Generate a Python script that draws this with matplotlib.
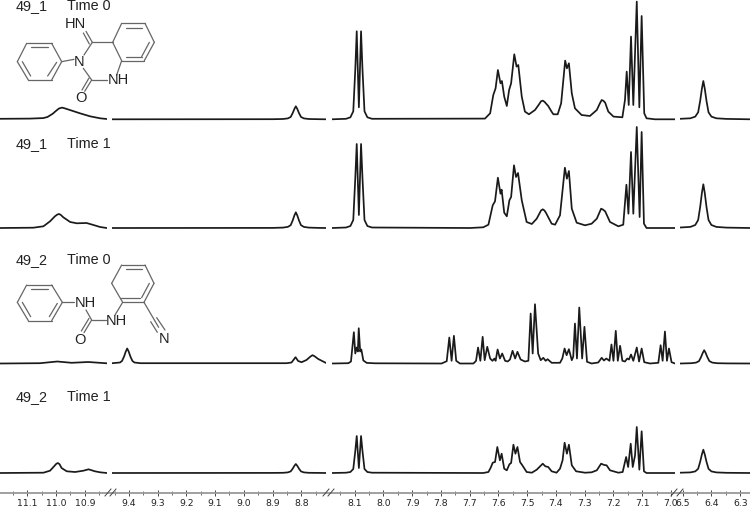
import matplotlib
matplotlib.use("Agg")
import matplotlib.pyplot as plt
from matplotlib.lines import Line2D
from matplotlib.ticker import MultipleLocator, FormatStrFormatter

# shared ppm readings for the singlets near 8.82 and 6.43
ppm_882 = [9.459, 8.899, 8.864, 8.847, 8.837, 8.83, 8.824, 8.819, 8.814, 8.808, 8.801, 8.791, 8.774, 8.739, 8.714]
ppm_643 = [6.508, 6.473, 6.456, 6.446, 6.439, 6.433, 6.428, 6.423, 6.417, 6.41, 6.4, 6.383, 6.348, 6.266]

# spectrum 49_1 time 0
a0_ppm1 = [11.195, 11.091, 11.045, 11.03, 11.012, 11.0, 10.99, 10.979, 10.968, 10.951, 10.917, 10.882, 10.847, 10.823]
a0_int1 = [0.5, 0.7, 1.2, 2.3, 5.5, 8.5, 10.8, 11.7, 10.8, 9.2, 6, 3, 1, 0.3]
a0_ppm2 = ppm_882
a0_int2 = [0, 0.1, 0.3, 0.9, 2.3, 6.2, 10.4, 13, 10.4, 6.2, 2.3, 0.9, 0.3, 0.1, 0]
a0_ppm3 = [8.179, 8.13, 8.115, 8.105, 8.098, 8.093, 8.0855, 8.078, 8.073, 8.066, 8.056, 8.04,
           7.647, 7.629, 7.618, 7.610, 7.602, 7.593, 7.588, 7.580, 7.571, 7.563, 7.556, 7.545,
           7.537, 7.531, 7.519, 7.508, 7.494, 7.473, 7.46, 7.452, 7.446, 7.44, 7.427, 7.415, 7.409, 7.394, 7.382, 7.368,
           7.362, 7.355, 7.345, 7.334, 7.311, 7.282, 7.258, 7.248, 7.241, 7.235, 7.229, 7.218, 7.200, 7.169,
           7.160, 7.154, 7.147, 7.139, 7.131, 7.119, 7.110, 7.102, 7.093, 7.085, 7.056, 6.986]
a0_int3 = [0, 0.5, 2, 8, 50, 88, 12, 88, 50, 8, 2, 0.5,
           0.7, 6, 24.3, 31, 49.3, 36, 38.3, 22.7, 13.3, 29.3, 36, 65,
           52.7, 54.3, 22.7, 7.7, 5, 9.3, 14.5, 18, 18.7, 17.5, 13.3, 7.5, 5, 5, 16, 58.7,
           51, 56, 26, 11, 4.3, 3.3, 9.3, 15.5, 19.3, 18.5, 16.7, 7.7, 2.7, 2,
           19.3, 47.7, 14.3, 82.7, 14.3, 117.7, 12, 103.3, 6, 1, 0, 0]
a0_ppm4 = ppm_643
a0_int4 = [0.5, 1, 2.7, 7, 18.4, 30.6, 38.3, 30.6, 18.4, 7, 2.7, 1, 0.4, 0]

# spectrum 49_1 time 1
a1_ppm1 = [11.195, 11.079, 11.044, 11.021, 11.004, 10.996, 10.990, 10.984, 10.975, 10.951, 10.928, 10.894, 10.870, 10.847, 10.824]
a1_int1 = [0, 0.3, 1.7, 6.7, 11.7, 13.4, 14, 13.2, 10.7, 6, 4.7, 5, 3, 1, 0]
a1_ppm2 = ppm_882
a1_int2 = [0, 0.1, 0.4, 1.1, 2.8, 7.5, 12.6, 15.7, 12.6, 7.5, 2.8, 1.1, 0.4, 0.1, 0]
a1_ppm3 = [8.179, 8.13, 8.115, 8.105, 8.098, 8.093, 8.0855, 8.078, 8.073, 8.066, 8.056, 8.04,
           7.699, 7.653, 7.635, 7.620, 7.612, 7.602, 7.593, 7.589, 7.580, 7.571, 7.562, 7.556,
           7.546, 7.539, 7.532, 7.519, 7.502, 7.484, 7.467, 7.452, 7.446, 7.44, 7.435, 7.415, 7.403, 7.386,
           7.369, 7.362, 7.355, 7.345, 7.328, 7.299, 7.276, 7.258, 7.243, 7.237, 7.229, 7.212, 7.183,
           7.166, 7.155, 7.148, 7.139, 7.131, 7.119, 7.109, 7.102, 7.094, 7.085, 6.986]
a1_int3 = [0, 0.5, 2, 8, 50, 84, 13, 84, 50, 8, 2, 0.5,
           0, 0.7, 3.3, 22.7, 26.7, 50.3, 34.3, 38.3, 15.3, 11.7, 27.7, 31,
           62.7, 51, 55, 27.7, 6, 4, 9.3, 17.5, 18.7, 17.5, 15.3, 4.3, 3.3, 12.7,
           60.3, 49.3, 57, 19.3, 5.3, 2.7, 4.3, 9.3, 19.3, 18.5, 16.7, 6, 1.7,
           3.3, 43.3, 14.3, 76, 14.3, 101, 11, 96, 4.3, 0, 0]
a1_ppm4 = ppm_643
a1_int4 = [0.5, 1.1, 3, 8, 21, 35, 43.7, 35, 21, 8, 3, 1.1, 0.4, 0]

# spectrum 49_2 time 0
b0_ppm1 = [11.195, 11.056, 10.996, 10.946, 10.888, 10.824]
b0_int1 = [0, 0.3, 2, 0.7, 1.5, 0.2]
b0_ppm2 = [9.458, 9.431, 9.424, 9.417, 9.411, 9.406, 9.401, 9.395, 9.388, 9.381, 9.36, 8.851, 8.834, 8.820, 8.811,
           8.799, 8.782, 8.768, 8.761, 8.754, 8.741, 8.715]
b0_int2 = [0.3, 1, 2.6, 7, 12, 15, 12, 7, 2.6, 1, 0.3, 0.3, 1, 6.3, 2.5,
           1.3, 3.5, 7, 8.3, 7.3, 4.5, 0.7]
b0_ppm3 = [8.179, 8.122, 8.113, 8.103, 8.098, 8.093, 8.089, 8.086, 8.081, 8.077, 8.070, 8.058, 8.029,
           7.798, 7.780, 7.771, 7.763, 7.755, 7.747, 7.734, 7.687, 7.678, 7.671, 7.663, 7.655,
           7.648, 7.639, 7.629, 7.621, 7.614, 7.610, 7.603, 7.595, 7.587, 7.577, 7.568, 7.560,
           7.551, 7.542, 7.534, 7.523, 7.508, 7.496, 7.488, 7.481, 7.473, 7.462, 7.453, 7.444,
           7.436, 7.429, 7.415, 7.386, 7.378, 7.370, 7.363, 7.355, 7.345, 7.340, 7.334, 7.327,
           7.319, 7.309, 7.301, 7.292, 7.276, 7.253, 7.241, 7.233, 7.225, 7.214, 7.207, 7.200,
           7.192, 7.185, 7.177, 7.169, 7.160, 7.152, 7.146, 7.139, 7.131, 7.119, 7.111, 7.102,
           7.093, 7.073, 7.044, 7.036, 7.029, 7.021, 7.014, 7.007, 6.998, 6.986]
b0_int3 = [0, 0.3, 2, 31.3, 10, 16, 12, 35.3, 12, 14, 3, 0.6, 0.2,
           0, 2.3, 26, 2.7, 27.7, 2.7, 0, 0, 2.7, 16, 2.7, 26.7,
           3.3, 16.7, 5, 2.7, 5, 2.7, 14, 5, 10, 2.7, 2, 4,
           12.7, 5, 11.7, 4, 2, 2.7, 50, 10, 59.3, 10, 3.3, 5.7,
           2.7, 4.3, 0.7, 0.7, 5, 15, 8.3, 14.3, 3.3, 6.7, 40, 5,
           56, 5, 36.7, 1.7, 0, 1, 5.7, 3, 5, 2.7, 19, 2.7,
           32.7, 2.7, 17.7, 2.7, 2, 5, 4, 9, 2.7, 16, 2, 15,
           1.3, 0, 0.7, 18.3, 2.7, 32, 2.7, 15, 1.3, 0]
b0_ppm4 = [6.508, 6.47, 6.453, 6.443, 6.436, 6.43, 6.425, 6.42, 6.414, 6.407, 6.397, 6.38, 6.345, 6.266]
b0_int4 = [0, 0.3, 0.9, 2.4, 6.4, 10.6, 13.3, 10.6, 6.4, 2.4, 0.9, 0.3, 0.1, 0]

# spectrum 49_2 time 1
b1_ppm1 = [11.195, 11.044, 11.021, 11.007, 11.0, 10.994, 10.988, 10.981, 10.963, 10.934, 10.905, 10.887, 10.865, 10.847, 10.824]
b1_int1 = [0, 0.3, 2.3, 6.7, 9, 10, 8.8, 5, 1.7, 1, 2.3, 3.7, 1.7, 0.7, 0]
b1_ppm2 = ppm_882
b1_int2 = [0, 0.1, 0.2, 0.6, 1.6, 4.3, 7.2, 9, 7.2, 4.3, 1.6, 0.6, 0.2, 0.1, 0]
b1_ppm3 = [8.179, 8.13, 8.115, 8.105, 8.098, 8.093, 8.0855, 8.078, 8.073, 8.066, 8.056, 8.04,
           7.653, 7.635, 7.627, 7.620, 7.612, 7.604, 7.595, 7.589, 7.580, 7.571, 7.562, 7.556,
           7.548, 7.541, 7.534, 7.525, 7.517, 7.502, 7.484, 7.467, 7.446, 7.437, 7.427, 7.415,
           7.398, 7.386, 7.377, 7.370, 7.362, 7.355, 7.345, 7.330, 7.299, 7.276, 7.258, 7.243,
           7.232, 7.224, 7.212, 7.183, 7.168, 7.156, 7.149, 7.140, 7.133, 7.125, 7.119, 7.110,
           7.102, 7.094, 7.085, 6.986]
b1_int3 = [0, 0.3, 1, 4, 22, 37, 5, 37, 22, 4, 1, 0.3,
           0, 1, 5.3, 10.3, 11, 26, 12.7, 19.3, 4.3, 2.7, 8.7, 10,
           28.3, 19.3, 26, 11, 7.7, 1, 0.3, 3.3, 9.3, 6.7, 6, 1.7,
           0.3, 4.3, 12.7, 30.3, 19.3, 28.3, 7.7, 1.7, 0.3, 0.7, 2.7, 9.3,
           8, 7.7, 2.7, 0.3, 1, 16, 6, 29.3, 6, 17.7, 46, 3.3,
           41.7, 1.7, 0, 0]
b1_ppm4 = ppm_643
b1_int4 = [0.3, 0.6, 1.6, 4.2, 11.2, 18.6, 23.3, 18.6, 11.2, 4.2, 1.6, 0.6, 0.2, 0]

# left and right ppm of each axis piece, and where it sits in pixels
ppm_limits = [(11.195, 10.823), (9.459, 8.714), (8.179, 6.986), (6.509, 6.266)]
piece_pixels = [(0, 107), (112, 326), (332, 675), (680, 750)]
baselines = [119.3, 228, 363.5, 473]
axis_y = 493

traces = [
    [(a0_ppm1, a0_int1), (a0_ppm2, a0_int2), (a0_ppm3, a0_int3), (a0_ppm4, a0_int4)],
    [(a1_ppm1, a1_int1), (a1_ppm2, a1_int2), (a1_ppm3, a1_int3), (a1_ppm4, a1_int4)],
    [(b0_ppm1, b0_int1), (b0_ppm2, b0_int2), (b0_ppm3, b0_int3), (b0_ppm4, b0_int4)],
    [(b1_ppm1, b1_int1), (b1_ppm2, b1_int2), (b1_ppm3, b1_int3), (b1_ppm4, b1_int4)],
]
sample_labels = ["49_1", "49_1", "49_2", "49_2"]
time_labels = ["Time 0", "Time 1", "Time 0", "Time 1"]
label_y = [6.5, 144, 260, 397]

W, H = 750, 508
fig = plt.figure(figsize=(W / 100, H / 100), dpi=100)

for i in range(4):
    x0, x1 = piece_pixels[i]
    ax = fig.add_axes([x0 / W, (H - axis_y) / H, (x1 - x0) / W, axis_y / H])
    ax.patch.set_alpha(0)
    ax.set_xlim(*ppm_limits[i])
    ax.set_ylim(0, axis_y)
    for k, base in enumerate(baselines):
        ppm, intensity = traces[k][i]
        ax.plot(ppm, [axis_y - base + v for v in intensity], color="#1a1a1a", lw=1.25, solid_joinstyle="round")
    for s in ax.spines.values():
        s.set_visible(False)
    ax.set_yticks([])
    ax.xaxis.set_major_locator(MultipleLocator(0.1))
    ax.xaxis.set_minor_locator(MultipleLocator(0.05))
    ax.xaxis.set_major_formatter(FormatStrFormatter("%.1f"))
    ax.tick_params(axis="x", which="major", direction="inout", length=4, width=0.7, color="#444444",
                   labelsize=6.7, pad=2, labelcolor="#222222")
    ax.tick_params(axis="x", which="minor", direction="inout", length=2.5, width=0.6, color="#555555")

# overlay in pixel coordinates for the axis line, break marks, labels and structures
over = fig.add_axes([0, 0, 1, 1])
over.set_xlim(0, W)
over.set_ylim(H, 0)
over.axis("off")
over.patch.set_alpha(0)
over.add_line(Line2D([0, W], [axis_y, axis_y], color="#999999", lw=1.3))
for bx in [108, 113, 326, 331, 674, 680]:
    over.plot([bx - 3, bx + 3], [axis_y + 3, axis_y - 4], color="#444444", lw=0.7)

for k in range(4):
    over.text(16, label_y[k], sample_labels[k], fontsize=10.4, family="Liberation Sans", va="center", color="#222222")
    over.text(67, label_y[k], time_labels[k], fontsize=10.4, family="Liberation Sans", va="center", color="#222222")


def bonds(segments, dx=0, dy=0):
    # segments are in 3x zoom pixels
    for (xa, ya, xb, yb) in segments:
        over.plot([dx + xa / 3, dx + xb / 3], [dy + ya / 3, dy + yb / 3], color="#666666", lw=0.9,
                  solid_capstyle="round")


def atom(x, y, s, dy=0):
    over.text(x / 3, dy + y / 3, s, fontsize=10.5, family="Liberation Sans", ha="center", va="center", color="#222222")


# first structure
bonds([(365, 70, 435, 70), (435, 70, 463, 127), (463, 127, 433, 182), (433, 182, 365, 182), (365, 182, 338, 127),
       (338, 127, 365, 70), (378, 83, 425, 83), (448, 127, 425, 170), (378, 170, 425, 170),
       (80, 130, 155, 130), (155, 130, 185, 185), (185, 185, 155, 240), (155, 240, 85, 240), (85, 240, 52, 185),
       (52, 185, 80, 130), (92, 142, 143, 142), (67, 185, 92, 228), (143, 228, 170, 187),
       (277, 127, 338, 127), (277, 127, 258, 94), (268, 132, 250, 99), (277, 127, 252, 165), (185, 185, 222, 178),
       (250, 205, 275, 240), (275, 240, 322, 240), (350, 225, 365, 182), (275, 240, 254, 274), (267, 234, 246, 270)])
atom(225, 73, "HN")
atom(238, 185, "N")
atom(355, 240, "NH")
atom(242, 295, "O")

# second structure
bonds([(80, 105, 155, 105), (155, 105, 187, 157), (187, 157, 155, 212), (155, 212, 85, 212), (85, 212, 52, 157),
       (52, 157, 80, 105), (92, 117, 145, 117), (67, 157, 92, 200), (148, 200, 172, 160),
       (187, 157, 222, 157), (258, 180, 275, 210), (275, 210, 318, 210), (275, 210, 252, 248), (267, 205, 244, 243),
       (345, 195, 368, 157), (368, 157, 335, 100), (335, 100, 365, 45), (365, 45, 435, 45), (435, 45, 462, 100),
       (462, 100, 432, 157), (432, 157, 368, 157), (378, 57, 425, 57), (448, 100, 425, 143), (360, 145, 420, 145),
       (432, 157, 476, 232), (452, 215, 472, 247), (470, 203, 495, 240)], dy=250)
atom(255, 158, "NH", dy=250)
atom(350, 212, "NH", dy=250)
atom(240, 270, "O", dy=250)
atom(492, 268, "N", dy=250)

fig.savefig("out.png", dpi=100)
